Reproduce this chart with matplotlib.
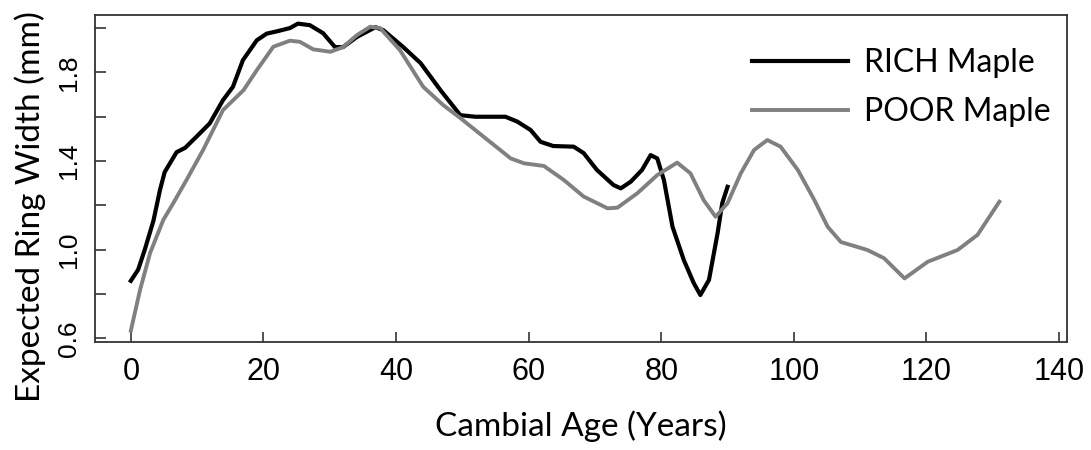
import matplotlib
matplotlib.use("Agg")
import matplotlib.pyplot as plt

# RICH maple expected ring width vs cambial age
rich_age = [0, 1.1, 2.1, 3.4, 4.4, 5.1, 6.9, 8.2, 9.9, 11.9, 13.9, 15.4, 16.9, 19, 20.5,
            22, 24, 25.2, 27, 29, 30.8, 32, 34.1, 36.9, 38.1, 41.1, 43.7, 46.7, 49.7, 52,
            56.5, 58.3, 60.3, 61.8, 63.7, 66.8, 68.3, 70.3, 72.8, 73.9, 75.4, 77.1, 78.4,
            79.4, 80.4, 81.7, 83.4, 84.9, 85.9, 87.2, 88.5, 89.2, 90]
rich_width = [0.86, 0.91, 1.0, 1.13, 1.27, 1.35, 1.44, 1.46, 1.51, 1.57, 1.675, 1.735, 1.855,
              1.945, 1.975, 1.985, 2.0, 2.02, 2.013, 1.977, 1.914, 1.914, 1.96, 2.004, 1.99,
              1.914, 1.842, 1.72, 1.607, 1.6, 1.6, 1.578, 1.54, 1.487, 1.468, 1.465, 1.436,
              1.36, 1.292, 1.277, 1.307, 1.36, 1.427, 1.412, 1.315, 1.104, 0.954, 0.85, 0.796,
              0.864, 1.075, 1.21, 1.284]

# POOR maple
poor_age = [0, 1.4, 2.9, 4.9, 6.4, 8.4, 10.9, 13.9, 17, 19, 21.5, 24, 25.5, 27.5, 30.1, 32,
            34.1, 36.1, 37.6, 40.6, 44.1, 47.1, 49.7, 53.2, 57.3, 59.3, 62.3, 65.3, 68.3,
            71.9, 73.4, 76.4, 79.4, 82.4, 84.4, 86.4, 88.2, 90, 92, 94, 96, 98, 100.6, 103.1,
            105.1, 107.1, 111.1, 113.6, 116.7, 120.2, 124.7, 127.7, 131]
poor_width = [0.635, 0.82, 0.985, 1.135, 1.21, 1.315, 1.45, 1.63, 1.72, 1.81, 1.916, 1.943,
              1.938, 1.904, 1.893, 1.914, 1.968, 2.006, 2.0, 1.9, 1.735, 1.653, 1.594, 1.51,
              1.412, 1.39, 1.378, 1.315, 1.24, 1.187, 1.19, 1.255, 1.337, 1.393, 1.345, 1.224,
              1.149, 1.21, 1.345, 1.45, 1.495, 1.465, 1.36, 1.224, 1.104, 1.035, 0.999, 0.962,
              0.871, 0.946, 0.999, 1.067, 1.217]

x_ticks = [0, 20, 40, 60, 80, 100, 120, 140]
y_ticks = [0.6, 0.8, 1.0, 1.2, 1.4, 1.6, 1.8, 2.0]
y_labels = ["0.6", "", "1.0", "", "1.4", "", "1.8", ""]

label_font = ["Lato", "DejaVu Sans"]
tick_font = ["Liberation Sans", "DejaVu Sans"]

fig = plt.figure(figsize=(10.91, 4.5), dpi=100)
ax = fig.add_axes([0.0871, 0.24, 0.8909, 0.7267])

ax.plot(rich_age, rich_width, color="black", lw=3.0, label="RICH Maple", solid_joinstyle="round")
ax.plot(poor_age, poor_width, color="#808080", lw=2.8, label="POOR Maple", solid_joinstyle="round")

ax.set_xlim(-5.4, 141.2)
ax.set_ylim(0.584, 2.059)

ax.set_xticks(x_ticks)
ax.set_xticklabels([str(t) for t in x_ticks], family=tick_font, fontsize=22)
ax.set_yticks(y_ticks)
ax.set_yticklabels(y_labels, family=tick_font, fontsize=19, rotation=90, va="center")

ax.tick_params(axis="x", direction="in", length=7, width=1.2, color="#333333", pad=11)
ax.tick_params(axis="y", direction="in", length=8, width=1.2, color="#333333", pad=10)
for s in ax.spines.values():
    s.set_linewidth(1.3)
    s.set_color("#333333")

ax.set_xlabel("Cambial Age (Years)", family=label_font, fontsize=24, labelpad=17)
# y label sits a bit below the axes centre in the original
fig.text(30 / 1091, 1 - 207 / 450, "Expected Ring Width (mm)", family=label_font,
         fontsize=24, rotation=90, ha="center", va="center")

leg = ax.legend(loc="upper left", bbox_to_anchor=(0.676, 0.90), frameon=False,
                prop={"family": label_font, "size": 23}, handlelength=3.0,
                handletextpad=0.5, labelspacing=0.62, borderpad=0, borderaxespad=0)

fig.savefig("out.png", dpi=100)
